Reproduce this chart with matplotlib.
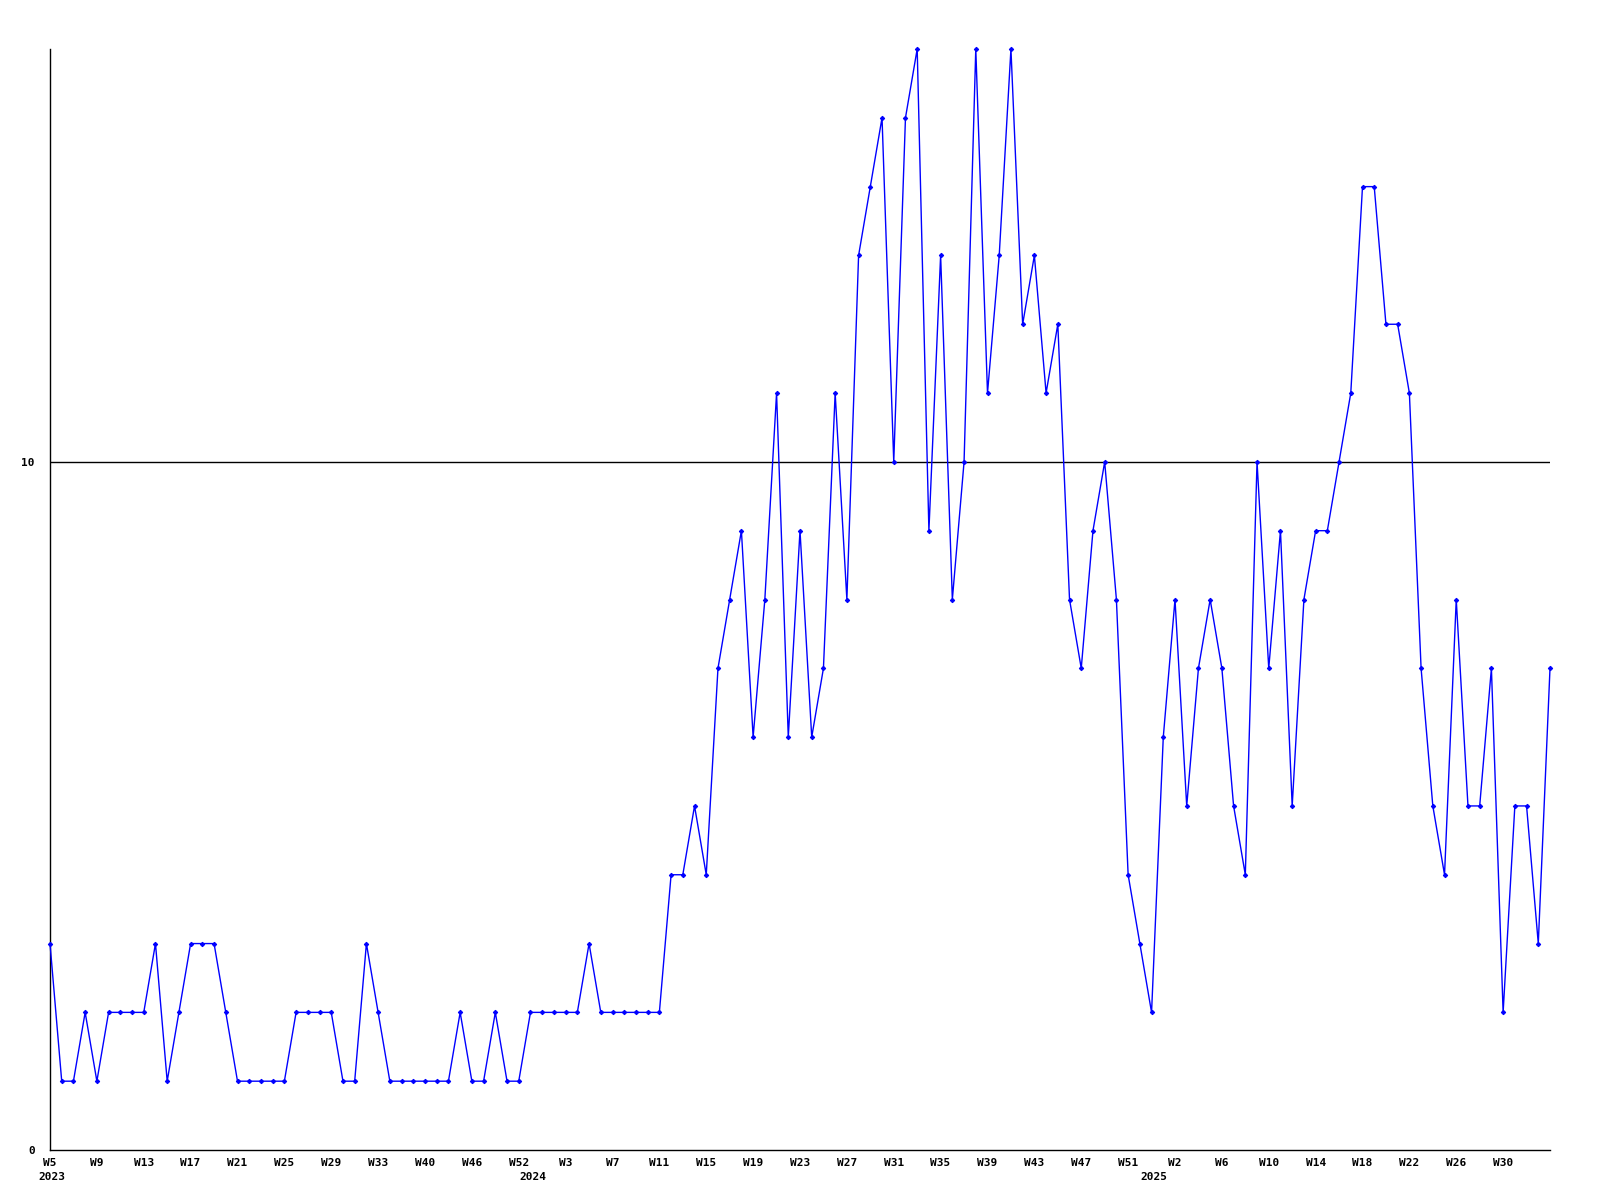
import matplotlib
matplotlib.use("Agg")
import matplotlib.pyplot as plt
import matplotlib.transforms as mtransforms

values = [3, 1, 1, 2, 1, 2, 2, 2, 2, 3,
          1, 2, 3, 3, 3, 2, 1, 1, 1, 1,
          1, 2, 2, 2, 2, 1, 1, 3, 2, 1,
          1, 1, 1, 1, 1, 2, 1, 1, 2, 1,
          1, 2, 2, 2, 2, 2, 3, 2, 2, 2,
          2, 2, 2, 4, 4, 5, 4, 7, 8, 9,
          6, 8, 11, 6, 9, 6, 7, 11, 8, 13,
          14, 15, 10, 15, 16, 9, 13, 8, 10, 16,
          11, 13, 16, 12, 13, 11, 12, 8, 7, 9,
          10, 8, 4, 3, 2, 6, 8, 5, 7, 8,
          7, 5, 4, 10, 7, 9, 5, 8, 9, 9,
          10, 11, 14, 14, 12, 12, 11, 7, 5, 4,
          8, 5, 5, 7, 2, 5, 5, 3, 7]

week_labels = ['W5', 'W9', 'W13', 'W17', 'W21', 'W25', 'W29', 'W33', 'W40',
               'W46', 'W52', 'W3', 'W7', 'W11', 'W15', 'W19', 'W23', 'W27',
               'W31', 'W35', 'W39', 'W43', 'W47', 'W51', 'W2', 'W6', 'W10',
               'W14', 'W18', 'W22', 'W26', 'W30']
year_labels = ['2023', '2024', '2025']
year_start_index = [0, 41, 94]
y_ticks = [0, 10]

font = dict(family='DejaVu Sans Mono', fontweight='bold', fontsize=8)

fig = plt.figure(figsize=(16, 12), dpi=100)
ax = fig.add_axes([50/1600, 50/1200, 1500/1600, 1101/1200])

x = list(range(len(values)))
ax.plot(x, values, color='#0000ff', linewidth=1.0, marker='D', markersize=2.2,
        markeredgewidth=0.8, clip_on=False, zorder=3)
ax.axhline(10, color='black', linewidth=1.0, zorder=2)

ax.set_xlim(0, len(values) - 1)
ax.set_ylim(0, 16)

for s in ['top', 'right']:
    ax.spines[s].set_visible(False)
for s in ['left', 'bottom']:
    ax.spines[s].set_color('black')
    ax.spines[s].set_linewidth(1.0)

ax.set_yticks(y_ticks)
ax.set_yticklabels([str(v) for v in y_ticks], **font)
tick_pos = list(range(0, 4 * len(week_labels), 4))
ax.set_xticks(tick_pos)
ax.set_xticklabels(week_labels, **font)
ax.tick_params(axis='both', length=0)
ax.tick_params(axis='y', pad=11)
ax.tick_params(axis='x', pad=6)

trans = mtransforms.blended_transform_factory(ax.transData, ax.transAxes)
for lab, pos in zip(year_labels, year_start_index):
    ax.text(pos + 0.2, -0.020, lab, transform=trans, ha='center', va='top', **font)

fig.savefig('out.png', dpi=100, facecolor='white')
